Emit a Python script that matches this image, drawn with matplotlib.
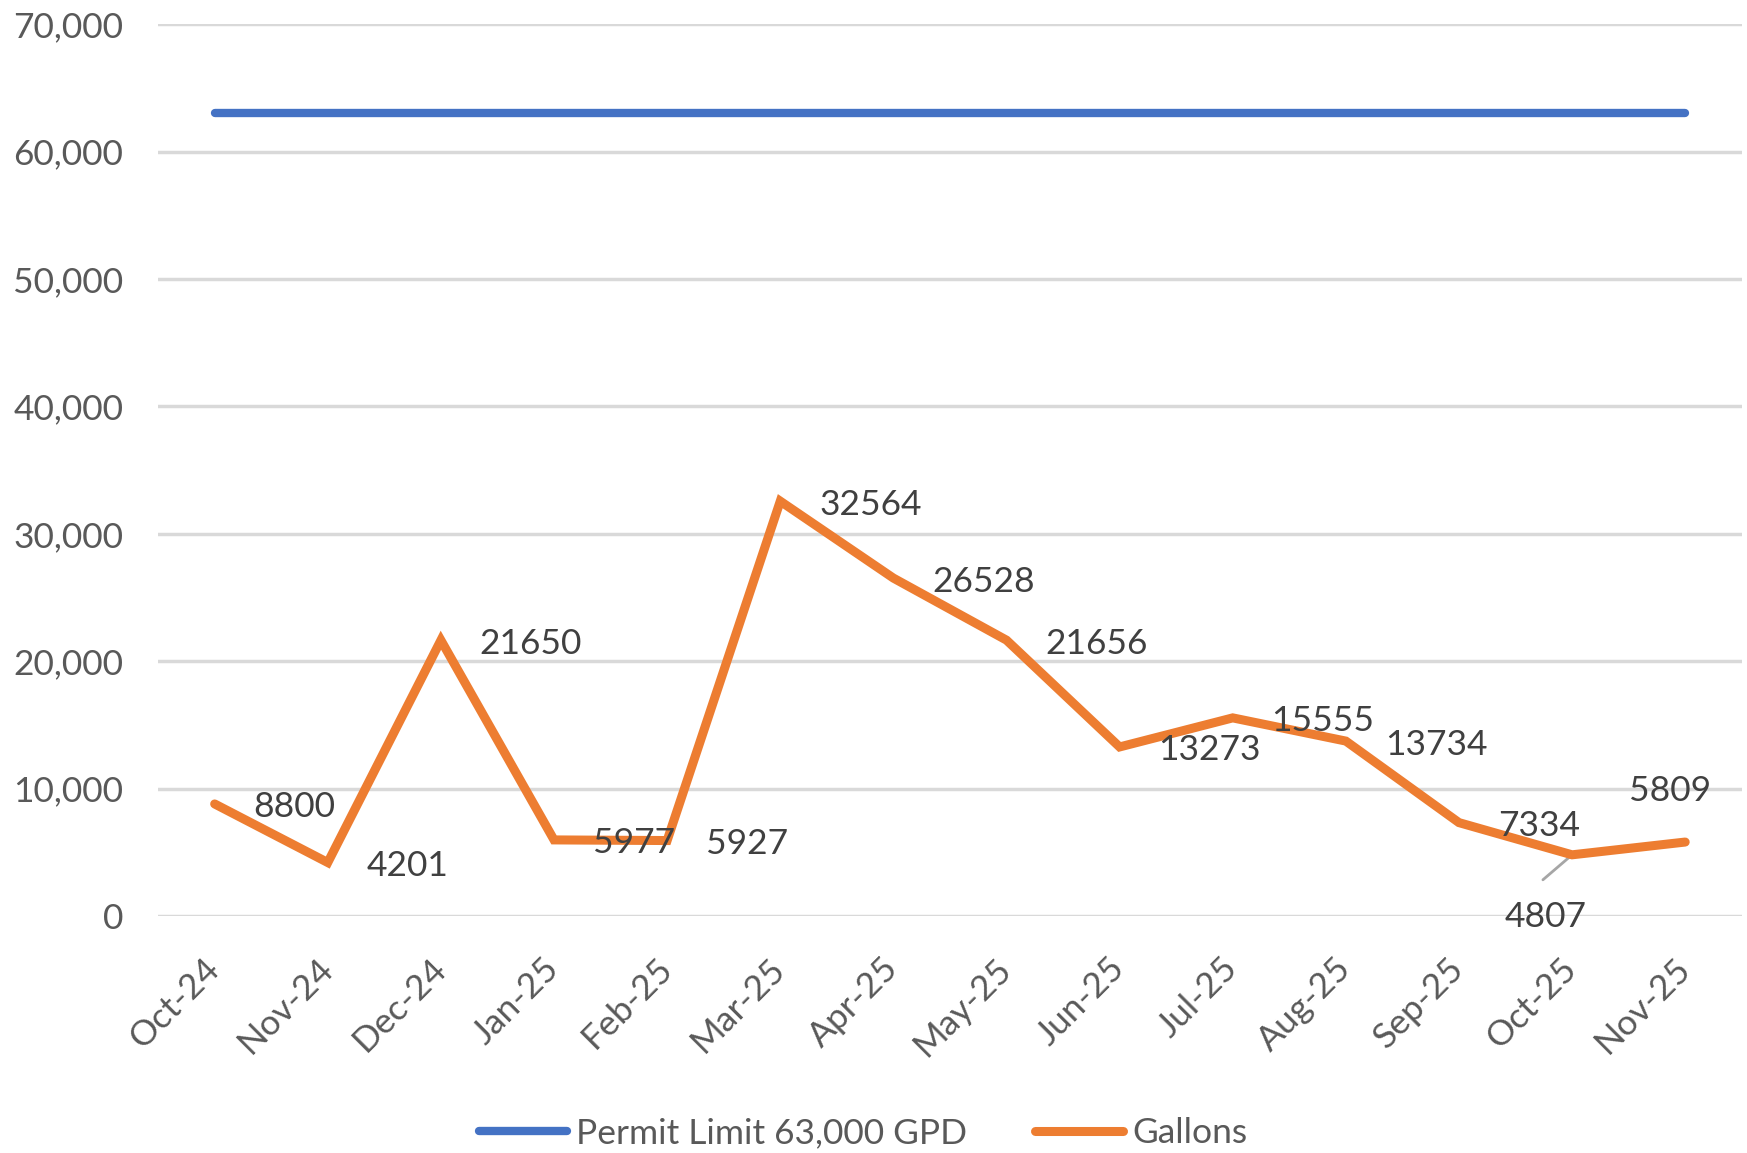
import matplotlib
matplotlib.use("Agg")
import matplotlib.pyplot as plt
from matplotlib.ticker import FuncFormatter

months = ["Oct-24", "Nov-24", "Dec-24", "Jan-25", "Feb-25", "Mar-25", "Apr-25",
          "May-25", "Jun-25", "Jul-25", "Aug-25", "Sep-25", "Oct-25", "Nov-25"]
gallons = [8800, 4201, 21650, 5977, 5927, 32564, 26528,
           21656, 13273, 15555, 13734, 7334, 4807, 5809]
permit_limit = [63000] * len(months)

BLUE = "#4472C4"
ORANGE = "#ED7D31"
GRID = "#D9D9D9"
TICK_COL = "#595959"
LABEL_COL = "#404040"

plt.rcParams['font.family'] = ['Lato', 'DejaVu Sans']

fig = plt.figure(figsize=(17.47, 11.53), dpi=100)
ax = fig.add_axes([0.0905, 0.2055, 0.9065, 0.7735])

x = list(range(len(months)))
ax.plot(x, permit_limit, color=BLUE, lw=6, solid_capstyle='round',
        label="Permit Limit 63,000 GPD", zorder=3)
ax.plot(x, gallons, color=ORANGE, lw=6.5, solid_capstyle='round',
        solid_joinstyle='miter', label="Gallons", zorder=3)

# data labels (Excel style: to the right of the point, two moved by hand)
for i, v in enumerate(gallons):
    if months[i] == "Oct-25":
        ax.annotate(str(v), (i, v), xytext=(-19, -45), textcoords='offset points',
                    ha='center', va='center', fontsize=25.5, color=LABEL_COL, zorder=4)
        # leader line
        ax.annotate("", (i, v), xytext=(-21, -18), textcoords='offset points',
                    arrowprops=dict(arrowstyle='-', color='#A6A6A6', lw=2,
                                    shrinkA=0, shrinkB=1), zorder=2)
    elif months[i] == "Nov-25":
        ax.annotate(str(v), (i, v), xytext=(-11, 37), textcoords='offset points',
                    ha='center', va='center', fontsize=25.5, color=LABEL_COL, zorder=4)
    else:
        ax.annotate(str(v), (i, v), xytext=(28, -2.5), textcoords='offset points',
                    ha='left', va='center', fontsize=25.5, color=LABEL_COL, zorder=4)

ax.set_xlim(-0.5, len(months) - 0.5)
ax.set_ylim(0, 70000)
ax.set_yticks(range(0, 70001, 10000))
ax.yaxis.set_major_formatter(FuncFormatter(lambda v, p: f"{int(v):,}"))
ax.set_xticks(x)
ax.set_xticklabels(months, rotation=45, ha='right', va='center', rotation_mode='anchor')
ax.grid(axis='y', color=GRID, lw=2.5, zorder=0)
ax.set_axisbelow(True)
ax.tick_params(axis='both', length=0, labelsize=25.5, labelcolor=TICK_COL)
ax.tick_params(axis='y', pad=25)
ax.tick_params(axis='x', pad=34)
for s in ax.spines.values():
    s.set_visible(False)

fig.legend(loc='center', bbox_to_anchor=(0.494, 0.017), ncol=2, frameon=False,
           fontsize=25.5, handlelength=2.5, handletextpad=0.25, columnspacing=1.9,
           labelcolor=TICK_COL)

fig.savefig("out.png", dpi=100)
